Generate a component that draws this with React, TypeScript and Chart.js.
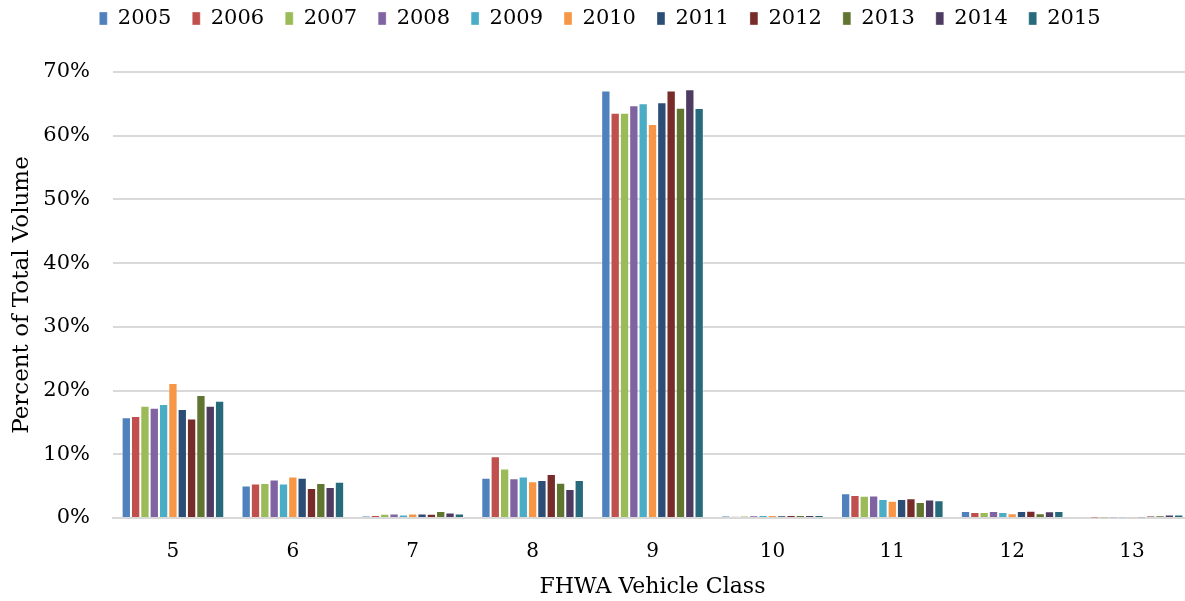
import React, { useEffect, useRef } from "react";
import { Chart, registerables } from "chart.js";

Chart.register(...registerables);

const vehicleClasses = ["5", "6", "7", "8", "9", "10", "11", "12", "13"];
const years = ["2005", "2006", "2007", "2008", "2009", "2010", "2011", "2012", "2013", "2014", "2015"];

const values2005 = [15.8, 5.1, 0.3, 6.3, 67.1, 0.3, 3.9, 1.1, 0.15];
const values2006 = [16.0, 5.4, 0.45, 9.7, 63.6, 0.25, 3.6, 0.95, 0.02];
const values2007 = [17.6, 5.5, 0.65, 7.75, 63.6, 0.35, 3.5, 0.95, 0.02];
const values2008 = [17.3, 6.05, 0.7, 6.25, 64.8, 0.4, 3.55, 1.1, 0.05];
const values2009 = [17.9, 5.4, 0.55, 6.5, 65.1, 0.45, 3.0, 0.95, 0.05];
const values2010 = [21.2, 6.5, 0.7, 5.75, 61.85, 0.45, 2.7, 0.75, 0.05];
const values2011 = [17.1, 6.3, 0.7, 5.95, 65.25, 0.4, 3.0, 1.1, 0.05];
const values2012 = [15.6, 4.7, 0.65, 6.9, 67.1, 0.45, 3.1, 1.15, 0.3];
const values2013 = [19.3, 5.5, 1.1, 5.55, 64.4, 0.45, 2.5, 0.75, 0.4];
const values2014 = [17.6, 4.85, 0.85, 4.55, 67.3, 0.45, 2.9, 1.05, 0.55];
const values2015 = [18.4, 5.7, 0.7, 5.95, 64.35, 0.45, 2.8, 1.1, 0.55];

const seriesValues = [
  values2005, values2006, values2007, values2008, values2009, values2010,
  values2011, values2012, values2013, values2014, values2015,
];

const colors = [
  "#4F81BD", "#C0504D", "#9BBB59", "#8064A2", "#4BACC6", "#F79646",
  "#2C4D75", "#772C2A", "#5F7530", "#4D3B62", "#276A7C",
];

const yTicks = [0, 10, 20, 30, 40, 50, 60, 70];

const FONT = "'DejaVu Serif', serif";

const legendSpacer = {
  id: "legendSpacer",
  beforeLayout(chart: any) {
    const lg = chart.legend;
    if (lg && !lg._patched) {
      const orig = lg.fit;
      lg.fit = function () {
        orig.call(this);
        this.height += 33;
      };
      lg._patched = true;
    }
  },
};

export default function App() {
  const ref = useRef<HTMLCanvasElement | null>(null);

  useEffect(() => {
    if (!ref.current) return;
    const chart = new Chart(ref.current, {
      type: "bar",
      data: {
        labels: vehicleClasses,
        datasets: years.map((y, i) => ({
          label: y,
          data: seriesValues[i],
          backgroundColor: colors[i],
          borderColor: "rgba(255,255,255,0.35)",
          borderWidth: 1,
          categoryPercentage: 0.856,
          barPercentage: 1,
        })),
      },
      options: {
        responsive: false,
        animation: false,
        layout: { padding: { top: -13, left: 8, right: 0, bottom: 1 } },
        plugins: {
          tooltip: { enabled: false },
          legend: {
            position: "top",
            labels: {
              boxWidth: 8,
              boxHeight: 13,
              padding: 21,
              color: "#000",
              font: { family: FONT, size: 21 },
            },
          },
        },
        scales: {
          x: {
            grid: { display: false, drawTicks: false },
            border: { display: true, color: "#D9D9D9", width: 2 },
            ticks: { color: "#000", padding: 22, font: { family: FONT, size: 20 } },
            title: {
              display: true,
              text: "FHWA Vehicle Class",
              color: "#000",
              font: { family: FONT, size: 22 },
              padding: { top: 6, bottom: 0 },
            },
            afterFit: (s: any) => { s.height = 82; },
          },
          y: {
            min: 0,
            max: 70,
            afterBuildTicks: (s: any) => { s.ticks = yTicks.map((v) => ({ value: v })); },
            grid: { color: "#D9D9D9", lineWidth: 2, drawTicks: false },
            border: { display: false },
            ticks: {
              color: "#000",
              padding: 23,
              font: { family: FONT, size: 21 },
              callback: (v: any) => v + "%",
            },
            title: {
              display: true,
              text: "Percent of Total Volume",
              color: "#000",
              font: { family: FONT, size: 23 },
              padding: { top: 0, bottom: 4 },
            },
            afterFit: (s: any) => { s.width = 105; },
          },
        },
      },
      plugins: [legendSpacer],
    });
    return () => chart.destroy();
  }, []);

  return (
    <div style={{ position: "fixed", left: 0, top: 0, width: 1185, height: 601, overflow: "hidden", background: "#fff" }}>
      <canvas ref={ref} width={1192} height={601} style={{ display: "block" }} />
    </div>
  );
}
